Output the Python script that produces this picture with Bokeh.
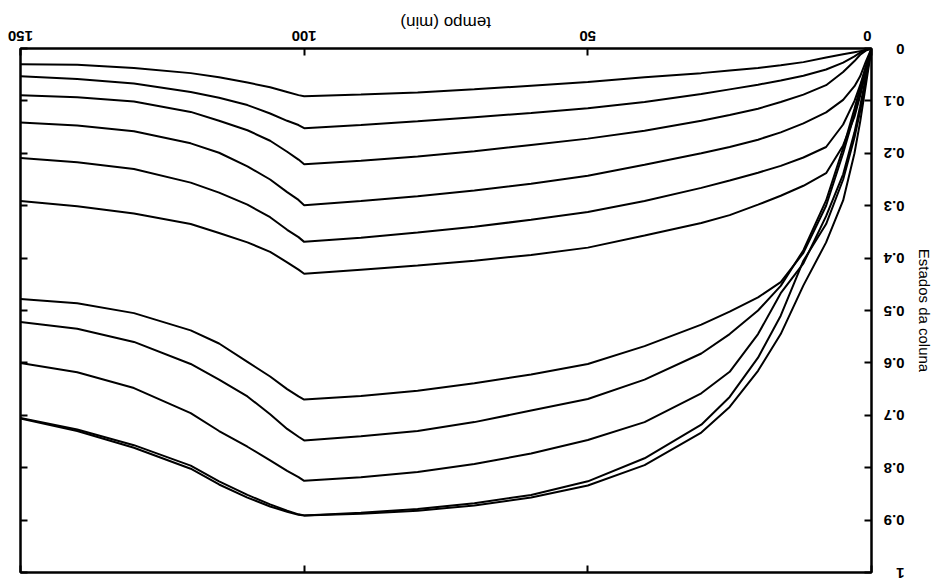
import math
from bokeh.plotting import figure
from bokeh.models import Range1d, LinearAxis, FixedTicker
from bokeh.embed import file_html
from bokeh.resources import INLINE

# time grid (min)
t = [0, 1, 2, 3, 5, 8, 12, 16, 20, 25, 30, 40, 50, 60, 70, 80, 90, 100,
     101, 103, 106, 110, 115, 120, 130, 140, 150]

# upper family of column states
c1 = [0, 0.003, 0.005, 0.007, 0.011, 0.017, 0.026, 0.032, 0.037, 0.042, 0.047, 0.055, 0.064, 0.071, 0.078, 0.084, 0.088, 0.091,
      0.089, 0.083, 0.074, 0.065, 0.055, 0.047, 0.037, 0.031, 0.030]
c2 = [0, 0.002, 0.008, 0.015, 0.027, 0.040, 0.052, 0.061, 0.069, 0.078, 0.087, 0.102, 0.114, 0.123, 0.131, 0.139, 0.146, 0.152,
      0.146, 0.138, 0.124, 0.108, 0.094, 0.083, 0.067, 0.058, 0.053]
c3 = [0, 0.004, 0.012, 0.024, 0.045, 0.070, 0.088, 0.102, 0.115, 0.127, 0.138, 0.157, 0.172, 0.184, 0.196, 0.206, 0.214, 0.221,
      0.212, 0.197, 0.176, 0.156, 0.138, 0.121, 0.101, 0.093, 0.089]
c4 = [0, 0.025, 0.053, 0.072, 0.098, 0.122, 0.143, 0.160, 0.174, 0.188, 0.200, 0.222, 0.243, 0.258, 0.271, 0.282, 0.291, 0.299,
      0.289, 0.274, 0.250, 0.225, 0.199, 0.181, 0.158, 0.147, 0.141]
c5 = [0, 0.035, 0.070, 0.100, 0.145, 0.188, 0.208, 0.224, 0.237, 0.252, 0.266, 0.291, 0.312, 0.327, 0.340, 0.351, 0.361, 0.369,
      0.360, 0.346, 0.322, 0.298, 0.275, 0.256, 0.230, 0.217, 0.209]
c6 = [0, 0.045, 0.090, 0.130, 0.185, 0.238, 0.262, 0.281, 0.298, 0.318, 0.333, 0.357, 0.380, 0.394, 0.405, 0.414, 0.422, 0.430,
      0.422, 0.408, 0.388, 0.370, 0.352, 0.335, 0.315, 0.301, 0.291]

# lower family of column states
c7 = [0, 0.040, 0.085, 0.125, 0.200, 0.300, 0.390, 0.446, 0.475, 0.502, 0.527, 0.568, 0.602, 0.622, 0.639, 0.653, 0.663, 0.670,
      0.664, 0.650, 0.626, 0.598, 0.563, 0.538, 0.505, 0.486, 0.478]
c8 = [0, 0.035, 0.075, 0.115, 0.190, 0.290, 0.385, 0.453, 0.500, 0.545, 0.582, 0.632, 0.669, 0.691, 0.713, 0.730, 0.740, 0.748,
      0.741, 0.726, 0.698, 0.664, 0.632, 0.602, 0.560, 0.535, 0.522]
c9 = [0, 0.055, 0.110, 0.160, 0.240, 0.320, 0.410, 0.467, 0.545, 0.617, 0.658, 0.713, 0.747, 0.773, 0.793, 0.808, 0.818, 0.825,
      0.818, 0.806, 0.786, 0.760, 0.730, 0.696, 0.648, 0.618, 0.600]
c10 = [0, 0.060, 0.120, 0.170, 0.250, 0.335, 0.405, 0.510, 0.590, 0.665, 0.718, 0.782, 0.826, 0.852, 0.868, 0.879, 0.886, 0.891,
       0.889, 0.882, 0.870, 0.852, 0.826, 0.796, 0.757, 0.727, 0.705]
c11 = [0, 0.070, 0.140, 0.200, 0.290, 0.370, 0.452, 0.545, 0.615, 0.684, 0.733, 0.795, 0.834, 0.857, 0.872, 0.882, 0.888, 0.891,
       0.890, 0.884, 0.874, 0.857, 0.832, 0.802, 0.762, 0.730, 0.706]

x_ticks = [0, 50, 100, 150]
x_labels = ["0", "50", "100", "150"]
y_ticks = [0, 0.1, 0.2, 0.3, 0.4, 0.5, 0.6, 0.7, 0.8, 0.9, 1]
y_labels = ["0", "0.1", "0.2", "0.3", "0.4", "0.5", "0.6", "0.7", "0.8", "0.9", "1"]
x_title = "tempo (min)"
y_title = "Estados da coluna"

FONT = "Liberation Sans"
TICK_PX = 15          # tick label font size (px)
XTITLE_PX = 17        # x title font size (px)
FRAME_W = 858         # plot frame width (px)
PX_PER_MIN = FRAME_W / (x_ticks[-1] - x_ticks[0])
DIGIT_W = 0.556 * TICK_PX          # width of one digit
TITLE_W = 5.33 * XTITLE_PX         # width of the x title

p = figure(width=936, height=580, x_range=Range1d(x_ticks[-1], x_ticks[0]), y_range=Range1d(y_ticks[-1], y_ticks[0]),
           output_backend="svg", toolbar_location=None,
           x_axis_location="above", y_axis_location="right",
           min_border_left=20, min_border_right=58, min_border_top=47, min_border_bottom=8)
p.background_fill_color = "white"
p.border_fill_color = "white"
p.outline_line_color = "black"
p.outline_line_width = 2
p.xgrid.grid_line_color = None
p.ygrid.grid_line_color = None

# the figure's own axes (above and right) -- grab them before adding others
top = p.xaxis[0]
right = p.yaxis[0]


def tick_axis(ax, ticks):
    ax.ticker = FixedTicker(ticks=ticks)
    ax.axis_line_color = "black"
    ax.axis_line_width = 2
    ax.major_tick_in = 7
    ax.major_tick_out = 0
    ax.major_tick_line_width = 2
    ax.major_tick_line_color = "black"
    ax.minor_tick_line_color = None
    ax.major_label_text_color = None
    ax.major_label_standoff = 0


def bare_axis(ax):
    ax.axis_line_color = None
    ax.major_tick_line_color = None
    ax.minor_tick_line_color = None
    ax.major_tick_in = 0
    ax.major_tick_out = 0


def label_style(ax, size, style):
    ax.major_label_text_color = "black"
    ax.major_label_text_font = FONT
    ax.major_label_text_font_size = f"{size}px"
    ax.major_label_text_font_style = style
    ax.major_label_orientation = math.pi   # printed upside down


# frame ticks on all four sides (pointing inwards)
tick_axis(top, x_ticks)
tick_axis(right, y_ticks)
bottom = LinearAxis()
tick_axis(bottom, x_ticks)
p.add_layout(bottom, "below")
left = LinearAxis()
tick_axis(left, y_ticks)
p.add_layout(left, "left")

# right axis: upside-down tick labels and the y title
right.major_label_overrides = dict(zip(y_ticks, y_labels))
label_style(right, TICK_PX, "bold")
right.major_label_standoff = 33
right.axis_label = y_title
right.axis_label_text_font = FONT
right.axis_label_text_font_size = "15px"
right.axis_label_text_font_style = "normal"
right.axis_label_text_color = "black"
right.axis_label_standoff = -12

# top: upside-down tick labels, each centred on its tick
label_pos = [max(v - len(s) * DIGIT_W / 2 / PX_PER_MIN, x_ticks[0]) for v, s in zip(x_ticks, x_labels)]
xlab = LinearAxis()
bare_axis(xlab)
xlab.ticker = FixedTicker(ticks=label_pos)
xlab.major_label_overrides = dict(zip(label_pos, x_labels))
label_style(xlab, TICK_PX, "bold")
xlab.major_label_standoff = 13
p.add_layout(xlab, "above")

# top: upside-down x title, centred over the frame
title_pos = (x_ticks[0] + x_ticks[-1]) / 2 - TITLE_W / 2 / PX_PER_MIN
xtitle = LinearAxis()
bare_axis(xtitle)
xtitle.ticker = FixedTicker(ticks=[title_pos])
xtitle.major_label_overrides = {title_pos: x_title}
label_style(xtitle, XTITLE_PX, "normal")
xtitle.major_label_standoff = 0
p.add_layout(xtitle, "above")

for c in [c1, c2, c3, c4, c5, c6, c7, c8, c9, c10, c11]:
    p.line(t, c, line_color="black", line_width=2)

open("out.html", "w").write(file_html(p, INLINE))
